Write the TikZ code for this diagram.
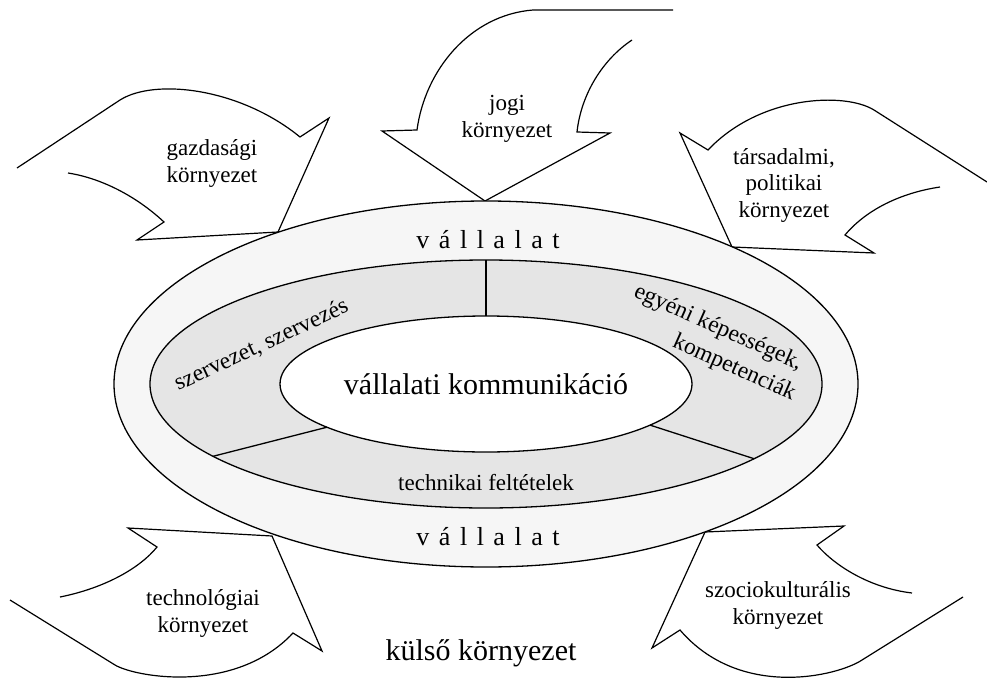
\documentclass[tikz,border=0pt]{standalone}
\usepackage{fontspec}
\setmainfont{Liberation Serif}
\definecolor{ringout}{gray}{0.965}
\definecolor{ringmid}{gray}{0.90}
\begin{document}
\begin{tikzpicture}[x=1pt,y=-1pt,
  outl/.style={draw=black, line width=1.3pt},
  blockarrow/.style={draw=black, line width=1.2pt, line join=miter},
  divider/.style={draw=black, line width=1.3pt},
  envlbl/.style={font=\fontsize{23}{26.5}\selectfont, align=center, inner sep=0pt},
  ringlbl/.style={font=\fontsize{23.5}{30}\selectfont, inner sep=0pt},
  firmlbl/.style={font=\fontsize{26}{30}\selectfont, inner sep=0pt, anchor=base},
]
\useasboundingbox (0,0) rectangle (987,682);

% --- environment arrows (open tails) ---
% gazdasagi
\draw[blockarrow] (17,168) -- (120,100) .. controls (155,78) and (240,88) .. (300,137)
  -- (329,118) -- (278,232) -- (137,240) -- (164,222)
  .. controls (135,195) and (100,178) .. (68,173);
% jogi
\draw[blockarrow] (673,10) -- (533,10) .. controls (470,15) and (425,70) .. (417,130)
  -- (382,131) -- (485,201) -- (610,133) -- (577,132)
  .. controls (581,95) and (602,60) .. (632,40);
% tarsadalmi
\draw[blockarrow] (987,182) -- (874,110) .. controls (845,92) and (760,95) .. (708,150)
  -- (680,133) -- (732,247) -- (874,253) -- (845,235)
  .. controls (866,210) and (900,193) .. (940,187);
% technologiai
\draw[blockarrow] (10,600) -- (115,665) .. controls (135,677) and (235,695) .. (293,633)
  -- (322,651) -- (272,536) -- (128,528) -- (157,547)
  .. controls (140,568) and (105,588) .. (60,597);
% szociokulturalis
\draw[blockarrow] (963,597) -- (862,660) .. controls (838,676) and (740,700) .. (680,630)
  -- (652,648) -- (705,532) -- (844,526) -- (817,545)
  .. controls (835,566) and (870,588) .. (912,593);

% --- rings ---
\path[outl, fill=ringout] (486,384) ellipse [x radius=372pt, y radius=183pt];
\path[outl, fill=ringmid] (486,384) ellipse [x radius=336pt, y radius=124pt];
\path[outl, fill=white] (486,384) ellipse [x radius=206pt, y radius=68pt];

% --- dividers ---
\coordinate (dA1) at (486,260);
\coordinate (dA2) at (486,316);
\coordinate (dB1) at (213,456.3);
\coordinate (dB2) at (327,427.2);
\coordinate (dC1) at (650,425.1);
\coordinate (dC2) at (754,458.7);
\draw[divider] (dA1) -- (dA2);
\draw[divider] (dB1) -- (dB2);
\draw[divider] (dC1) -- (dC2);

% --- labels ---
\node[envlbl, name=gazd] at (212,163.5) {gazdasági\\környezet};
\node[envlbl, name=jogi] at (507,119) {jogi\\környezet};
\node[envlbl, name=tars] at (784,185) {társadalmi,\\politikai\\környezet};
\node[envlbl, name=tech] at (203,613.5) {technológiai\\környezet};
\node[envlbl, name=szoc] at (778,605.5) {szociokulturális\\környezet};

\node[firmlbl, name=valtop] at (488,248) {\spaceskip=9.5pt\relax v á l l a l a t};
\node[firmlbl, name=valbot] at (488,545) {\spaceskip=9.5pt\relax v á l l a l a t};

\node[name=kozep, font=\fontsize{30}{34}\selectfont, inner sep=0pt, anchor=base] at (486,394) {vállalati kommunikáció};
\node[name=szerv, ringlbl, anchor=base, rotate=25] at (264,351) {szervezet, szervezés};
\node[name=egyeni, ringlbl, align=right, rotate=-24] at (712,342) {egyéni képességek,\\kompetenciák\hspace*{-6pt}};
\node[name=techf, font=\fontsize{23}{26}\selectfont, inner sep=0pt, anchor=base] at (486,490) {technikai feltételek};

\node[name=kulso, font=\fontsize{30}{34}\selectfont, inner sep=0pt, anchor=base] at (481,660) {külső környezet};
\end{tikzpicture}
\end{document}
